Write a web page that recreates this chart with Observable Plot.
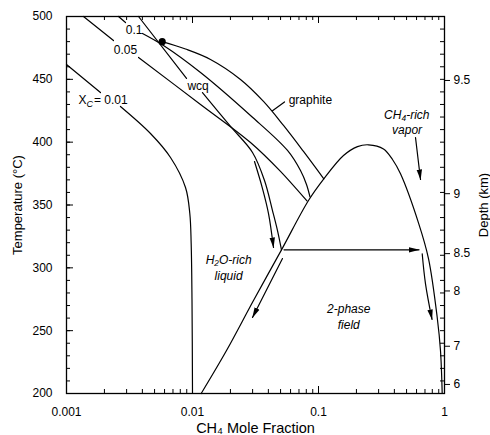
<!DOCTYPE html>
<html><head><meta charset="utf-8">
<script src="https://cdn.jsdelivr.net/npm/d3@7"></script>
<script src="https://cdn.jsdelivr.net/npm/@observablehq/plot@0.6"></script>
<style>
html,body{margin:0;padding:0;background:#fff;}
#chart{width:490px;height:435px;}
</style></head><body><div id="chart"></div>
<script>
// ---------- axis ticks ----------
const xTickValues = [0.001, 0.01, 0.1, 1];
const xTickLabels = ["0.001", "0.01", "0.1", "1"];
const yTickValues = [200, 250, 300, 350, 400, 450, 500];
const depthTemps  = [207.2, 237.6, 281.6, 311.3, 359.0, 449.1];
const depthLabels = ["6", "7", "8", "8.5", "9", "9.5"];

// ---------- curves: [CH4 mole fraction, temperature °C] ----------
const xc001A = [[0.001,461.8],[0.00186,439.5]];
const xc001B = [[0.00268,428.4],[0.00464,406.9],[0.00669,387.8],[0.0088,363.9],[0.00952,343.2],[0.00976,319.4],[0.00991,274.0],[0.0100,200]];
const xc005A = [[0.001364,500],[0.00236,480.9]];
const xc005B = [[0.00373,467.4],[0.01158,430.0],[0.02886,399.7],[0.04994,376.7],[0.0810,353.2]];
const xc01A  = [[0.002587,500],[0.00294,495.2]];
const xc01B  = [[0.004011,486.5],[0.005887,476.9],[0.01158,455.4],[0.02886,421.2],[0.05675,393.4],[0.07197,377.4],[0.08031,366.3],[0.08559,356.4]];
const wcqA   = [[0.003728,500],[0.008965,450.7]];
const wcqB   = [[0.012,439.5],[0.02003,412.5],[0.02994,391.8],[0.03728,369.5],[0.04314,345.6],[0.04727,329.7],[0.05085,314.3]];
const graphite = [[0.00575,480],[0.008799,474.1],[0.01389,465.8],[0.02404,449.9],[0.03660,432.4],[0.05275,413.3],[0.07603,392.6],[0.1102,370.8]];
const solvus = [[0.01172,200],[0.01862,234.2],[0.03048,274.0],[0.05085,314.3],[0.08327,353.6],[0.1102,370.8],[0.1579,389.4],[0.2039,396.5],[0.2494,397.9],[0.3280,394.6],[0.3866,386.2],[0.4476,374.8],[0.6252,335.0],[0.7464,307.4],[0.8750,260.7],[0.9292,234.2],[0.9588,200]];
const graphiteLeader = [[0.04314,425.0],[0.05373,432.0]];
const startPoint = [[0.00575,480]];

// ---------- arrows ----------
const arrowWcq    = [[0.03105,384.6],[0.03594,363.1],[0.04011,343.2],[0.04394,316.2]];
const arrowLiquid = [[0.05179,307.4],[0.02994,260.5]];
const arrowVapor  = [[0.6653,311.2],[0.7067,287.3],[0.7960,258.9]];
const arrowSplit  = [[0.05323,314.3],[0.6276,314.3]];
const arrowVaporLabel = [[0.5887,403.7],[0.6451,370.3]];

// ---------- labels ----------
const curveLabels = [
  {x: 0.00294, y: 473.0, text: "0.05"},
  {x: 0.00344, y: 488.9, text: "0.1"},
  {x: 0.01108, y: 444.3, text: "wcq"}
];
const graphiteLabel = [{x: 0.0580, y: 433.2, text: "graphite"}];
const xcLabel = [{x: 0.001245, y: 433.2}];
const fieldLabels = [
  {x: 0.502,   y: 421.3, text: "CH\u2084-rich"},
  {x: 0.505,   y: 409.4, text: "vapor"},
  {x: 0.01935, y: 306.0, text: "H\u2082O-rich"},
  {x: 0.01935, y: 293.3, text: "liquid"},
  {x: 0.1738,  y: 267.0, text: "2-phase"},
  {x: 0.1738,  y: 254.3, text: "field"}
];

const FONT = "'Liberation Sans', Arial, Helvetica, sans-serif";
const W = 490, H = 435, mL = 66, mR = 46, mT = 16, mB = 42;
const innerW = W - mL - mR, innerH = H - mT - mB;
const X = d => d[0], Y = d => d[1];

const yMinor = d3.range(200, 501, 10);
const xMinor = [0.001, 0.01, 0.1].flatMap(d => d3.range(2, 10).map(k => k * d));

function arrowHead(color, context) {
  const ns = "http://www.w3.org/2000/svg";
  const m = document.createElementNS(ns, "marker");
  m.setAttribute("viewBox", "-10 -3.5 11 7");
  m.setAttribute("markerWidth", "11");
  m.setAttribute("markerHeight", "7");
  m.setAttribute("markerUnits", "userSpaceOnUse");
  m.setAttribute("refX", "0");
  m.setAttribute("refY", "0");
  m.setAttribute("orient", "auto");
  m.setAttribute("fill", "black");
  m.setAttribute("stroke", "none");
  const p = document.createElementNS(ns, "path");
  p.setAttribute("d", "M-10,-2.7L0.6,0L-10,2.7Z");
  m.appendChild(p);
  return m;
}

const lineOpts = {x: X, y: Y, stroke: "black", strokeWidth: 1.2, curve: "catmull-rom"};
const straightOpts = {x: X, y: Y, stroke: "black", strokeWidth: 1.2};

const plot = Plot.plot({
  width: W, height: H,
  marginLeft: mL, marginRight: mR, marginTop: mT, marginBottom: mB,
  style: {fontFamily: FONT, fontSize: "12px", color: "black", background: "white", overflow: "visible"},
  x: {type: "log", domain: [0.001, 1]},
  y: {domain: [200, 500]},
  marks: [
    // inward minor/major ticks
    Plot.tickY(yMinor, {y: d => d, insetRight: innerW - 4, stroke: "black"}),
    Plot.tickY(yMinor, {y: d => d, insetLeft: innerW - 4, stroke: "black"}),
    Plot.tickY(yTickValues, {y: d => d, insetRight: innerW - 7, stroke: "black"}),
    Plot.tickX(xMinor, {x: d => d, insetTop: innerH - 4, stroke: "black"}),
    Plot.tickX(xMinor, {x: d => d, insetBottom: innerH - 4, stroke: "black"}),
    Plot.tickX(xTickValues, {x: d => d, insetTop: innerH - 7, stroke: "black"}),
    Plot.tickX(xTickValues, {x: d => d, insetBottom: innerH - 7, stroke: "black"}),
    // axes text
    Plot.axisX({ticks: xTickValues, tickFormat: d => xTickLabels[xTickValues.indexOf(d)], tickSize: 0, tickPadding: 14, label: null, fontSize: 12}),
    Plot.axisY({anchor: "left", ticks: yTickValues, tickSize: 0, tickPadding: 14, label: null, fontSize: 12}),
    Plot.axisY({anchor: "right", ticks: depthTemps, tickFormat: d => depthLabels[depthTemps.indexOf(d)], tickSize: 5, tickPadding: 4, label: null, fontSize: 12}),
    Plot.frame({stroke: "black", strokeWidth: 1.3}),
    // curves
    Plot.line(xc001A, straightOpts),
    Plot.line(xc001B, lineOpts),
    Plot.line(xc005A, straightOpts),
    Plot.line(xc005B, lineOpts),
    Plot.line(xc01A, straightOpts),
    Plot.line(xc01B, lineOpts),
    Plot.line(wcqA, straightOpts),
    Plot.line(wcqB, lineOpts),
    Plot.line(graphite, lineOpts),
    Plot.line(graphiteLeader, straightOpts),
    Plot.line(solvus, lineOpts),
    // arrows
    Plot.line(arrowWcq, {...lineOpts, markerEnd: arrowHead}),
    Plot.line(arrowLiquid, {...straightOpts, markerEnd: arrowHead}),
    Plot.line(arrowVapor, {...lineOpts, markerEnd: arrowHead}),
    Plot.line(arrowSplit, {...straightOpts, markerEnd: arrowHead}),
    Plot.line(arrowVaporLabel, {...straightOpts, markerEnd: arrowHead}),
    Plot.dot(startPoint, {x: X, y: Y, r: 3.6, fill: "black", stroke: "none"}),
    // labels
    Plot.text(curveLabels, {x: "x", y: "y", text: "text", fontSize: 12}),
    Plot.text(graphiteLabel, {x: "x", y: "y", text: "text", fontSize: 12, textAnchor: "start"}),
    Plot.text(xcLabel, {x: "x", y: "y", text: () => "X", fontSize: 12, textAnchor: "start"}),
    Plot.text(xcLabel, {x: "x", y: "y", text: () => "C", fontSize: 9, fontStyle: "italic", textAnchor: "start", dx: 8, dy: 4}),
    Plot.text(xcLabel, {x: "x", y: "y", text: () => "= 0.01", fontSize: 12, textAnchor: "start", dx: 15.5}),
    Plot.text(fieldLabels, {x: "x", y: "y", text: "text", fontSize: 12, fontStyle: "italic"}),
    // axis titles
    Plot.text(["CH\u2084 Mole Fraction"], {frameAnchor: "bottom", dy: 35, lineAnchor: "middle", textAnchor: "middle", fontSize: 14.5}),
    Plot.text(["Temperature (\u00B0C)"], {frameAnchor: "left", dx: -48.5, rotate: -90, textAnchor: "middle", lineAnchor: "middle", fontSize: 13}),
    Plot.text(["Depth (km)"], {frameAnchor: "right", dx: 39, rotate: -90, textAnchor: "middle", lineAnchor: "middle", fontSize: 13})
  ]
});
document.getElementById("chart").append(plot);
</script></body></html>
